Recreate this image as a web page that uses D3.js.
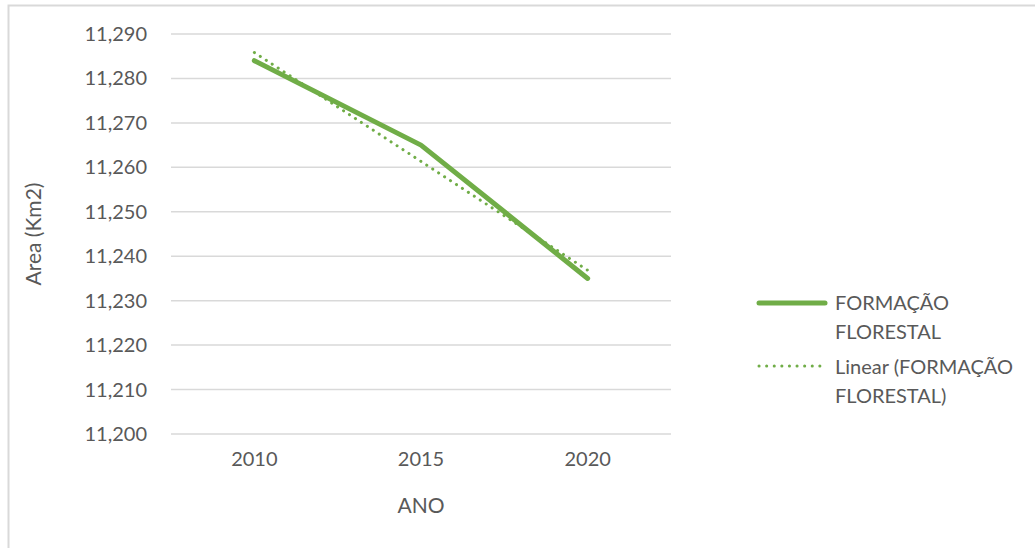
<!DOCTYPE html>
<html lang="pt">
<head>
<meta charset="UTF-8" />
<title>Formação Florestal</title>
<script src="https://d3js.org/d3.v7.min.js"></script>
<style>
  body { margin: 0; background: #fff; }
  text { font-family: Lato, "Liberation Sans", sans-serif; fill: #595959; }
</style>
</head>
<body>
<script>
// dados
const anos = ['2010', '2015', '2020'];
const areaFloresta = [11284, 11265, 11235];
const yTicks = [11200, 11210, 11220, 11230, 11240, 11250, 11260, 11270, 11280, 11290];
const nomeSerie = ['FORMAÇÃO', 'FLORESTAL'];
const nomeTendencia = ['Linear (FORMAÇÃO', 'FLORESTAL)'];

const width = 1035, height = 548;
const verde = '#70ad47';

const svg = d3.select('body').append('svg').attr('width', width).attr('height', height);

// borda da área do gráfico
svg.append('rect')
  .attr('x', 8.5).attr('y', 5.5)
  .attr('width', 1040).attr('height', 560)
  .attr('fill', 'none').attr('stroke', '#d9d9d9').attr('stroke-width', 2);

const x = d3.scaleBand().domain(anos).range([171, 671]);
const y = d3.scaleLinear().domain([11200, 11290]).range([434, 34]);

// linhas de grade
svg.append('g').selectAll('line')
  .data(yTicks).enter().append('line')
  .attr('x1', 171).attr('x2', 671)
  .attr('y1', d => y(d)).attr('y2', d => y(d))
  .attr('stroke', '#d9d9d9').attr('stroke-width', 1.5);

// rótulos do eixo y
svg.append('g').selectAll('text')
  .data(yTicks).enter().append('text')
  .attr('x', 147).attr('y', d => y(d))
  .attr('dy', '0.35em').attr('text-anchor', 'end')
  .attr('font-size', 20)
  .text(d => d3.format(',')(d));

// rótulos do eixo x
svg.append('g').selectAll('text')
  .data(anos).enter().append('text')
  .attr('x', d => x(d) + x.bandwidth() / 2).attr('y', 466)
  .attr('text-anchor', 'middle').attr('font-size', 20)
  .text(d => d);

// títulos dos eixos
svg.append('text')
  .attr('x', 421).attr('y', 513)
  .attr('text-anchor', 'middle').attr('font-size', 21)
  .text('ANO');
svg.append('text')
  .attr('transform', 'translate(41,234) rotate(-90)')
  .attr('text-anchor', 'middle').attr('font-size', 21)
  .text('Area (Km2)');

const pontos = anos.map((a, i) => ({ ano: a, v: areaFloresta[i] }));
const cx = d => x(d.ano) + x.bandwidth() / 2;

// linha de tendência (regressão linear)
const n = pontos.length;
const mx = (n - 1) / 2;
const my = d3.mean(areaFloresta);
const slope = d3.sum(areaFloresta, (v, i) => (i - mx) * (v - my)) / d3.sum(areaFloresta, (v, i) => (i - mx) * (i - mx));
const tendencia = pontos.map((p, i) => ({ ano: p.ano, v: my + slope * (i - mx) }));

const linha = d3.line().x(cx).y(d => y(d.v));

svg.append('path')
  .datum(pontos)
  .attr('d', linha)
  .attr('fill', 'none').attr('stroke', verde)
  .attr('stroke-width', 5).attr('stroke-linecap', 'round').attr('stroke-linejoin', 'round');

svg.append('path')
  .datum(tendencia)
  .attr('d', linha)
  .attr('fill', 'none').attr('stroke', verde)
  .attr('stroke-width', 3).attr('stroke-linecap', 'round')
  .attr('stroke-dasharray', '0.1 7');

// legenda
const leg = svg.append('g');
leg.append('line')
  .attr('x1', 759).attr('x2', 825).attr('y1', 303).attr('y2', 303)
  .attr('stroke', verde).attr('stroke-width', 5).attr('stroke-linecap', 'round');
leg.append('line')
  .attr('x1', 759).attr('x2', 827).attr('y1', 366).attr('y2', 366)
  .attr('stroke', verde).attr('stroke-width', 3).attr('stroke-linecap', 'round')
  .attr('stroke-dasharray', '0.1 7.5');

leg.selectAll('text.s1')
  .data(nomeSerie).enter().append('text')
  .attr('x', 835).attr('y', (d, i) => 303 + i * 29)
  .attr('dy', '0.35em').attr('font-size', 20)
  .text(d => d);
leg.selectAll('text.s2')
  .data(nomeTendencia).enter().append('text')
  .attr('x', 835).attr('y', (d, i) => 367 + i * 29)
  .attr('dy', '0.35em').attr('font-size', 20)
  .text(d => d);
</script>
</body>
</html>
